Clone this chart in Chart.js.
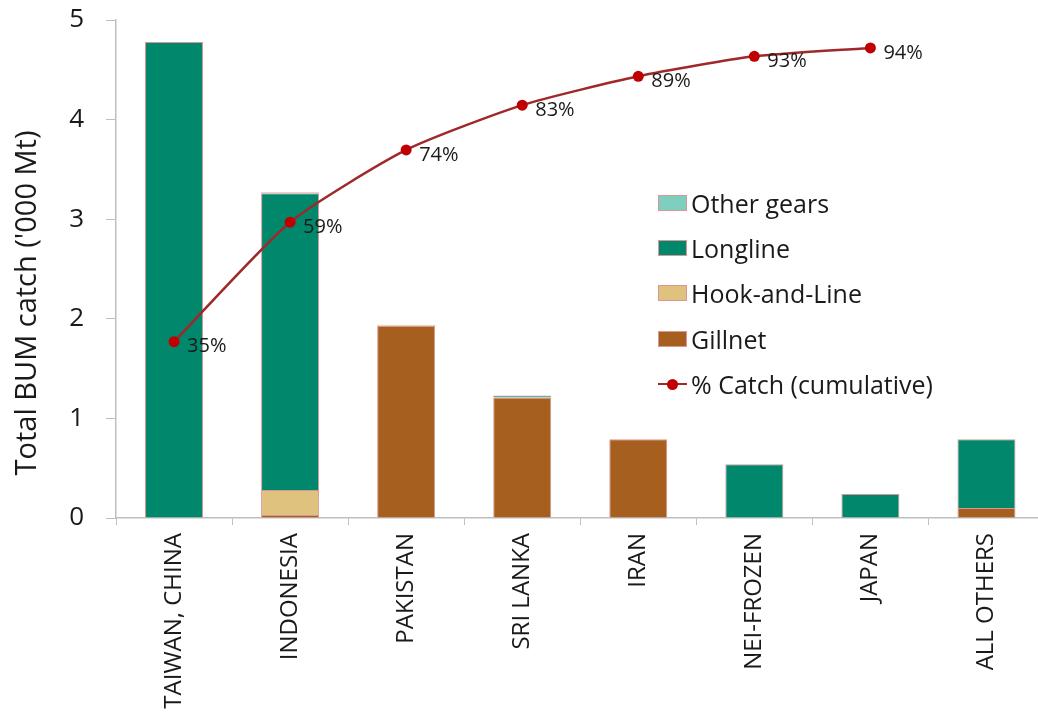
<!DOCTYPE html>
<html>
<head>
<meta charset="utf-8">
<script src="https://cdn.jsdelivr.net/npm/chart.js@4.4.0/dist/chart.umd.min.js"></script>
<style>
  html, body { margin: 0; padding: 0; background: #fff; overflow: hidden; }
  #wrap { position: relative; width: 1050px; height: 716px; }
  #legend { position: absolute; left: 658px; top: 180px; font-family: "Open Sans", sans-serif; font-size: 25px; color: #1a1a1a; }
  #legend .row { display: flex; align-items: center; height: 45.3px; white-space: nowrap; }
  #legend .sw { width: 27px; height: 14px; border: 1px solid #d99694; margin-right: 4px; }
  #legend .ln { position: relative; width: 29px; height: 14px; margin-right: 4px; }
  #legend .ln:before { content: ""; position: absolute; left: 0; right: 0; top: 6px; height: 2px; background: #a0282a; }
  #legend .ln:after { content: ""; position: absolute; left: 9px; top: 2px; width: 11px; height: 11px; border-radius: 50%; background: #c00000; }
</style>
</head>
<body>
<div id="wrap">
  <canvas id="barChart" width="1050" height="716"></canvas>
  <div id="legend"></div>
</div>
<script>
// ---- data ----
const categories = ["TAIWAN, CHINA", "INDONESIA", "PAKISTAN", "SRI LANKA", "IRAN", "NEI-FROZEN", "JAPAN", "ALL OTHERS"];
const gillnet    = [null, 0.03, 1.93, 1.21, 0.79, null, null, 0.10];
const hookLine   = [null, 0.25, 0.01, null, null, null, null, null];
const longline   = [4.78, 2.98, null, 0.02, null, 0.54, 0.24, 0.69];
const otherGears = [null, 0.01, null, null, null, null, null, null];
const cumPct     = [35.4, 59.4, 73.9, 82.9, 88.7, 92.7, 94.4];
const yMax = 5;

const FONT = '"Open Sans", sans-serif';
const TXT = '#1a1a1a';
const AXIS = '#bfbfbf';
const EDGE = '#d99694';

// draws the rotated y title and the % labels next to the line points
const extras = {
  id: 'extras',
  afterDatasetsDraw(chart) {
    const ctx = chart.ctx;
    ctx.save();
    ctx.fillStyle = TXT;
    ctx.font = '20px ' + FONT;
    ctx.textAlign = 'left';
    ctx.textBaseline = 'middle';
    const meta = chart.getDatasetMeta(4);
    meta.data.forEach((pt, i) => {
      ctx.fillText(Math.round(cumPct[i]) + '%', pt.x + 13, pt.y + 5);
    });
    ctx.restore();

    ctx.save();
    ctx.fillStyle = TXT;
    ctx.font = '29px ' + FONT;
    ctx.textAlign = 'center';
    ctx.textBaseline = 'middle';
    ctx.translate(28, 303);
    ctx.rotate(-Math.PI / 2);
    ctx.fillText("Total BUM catch ('000 Mt)", 0, 0);
    ctx.restore();
  }
};

const CHART = document.getElementById('barChart');
let barChart = new Chart(CHART, {
  type: 'bar',
  data: {
    labels: categories,
    datasets: [
      { label: 'Gillnet', data: gillnet, backgroundColor: '#a65f1e', borderColor: EDGE, borderWidth: 1, order: 1 },
      { label: 'Hook-and-Line', data: hookLine, backgroundColor: '#dfc27d', borderColor: EDGE, borderWidth: 1, order: 1 },
      { label: 'Longline', data: longline, backgroundColor: '#00876c', borderColor: EDGE, borderWidth: 1, order: 1 },
      { label: 'Other gears', data: otherGears, backgroundColor: '#7fcfc0', borderColor: EDGE, borderWidth: 1, order: 1 },
      {
        label: '% Catch (cumulative)',
        type: 'line',
        data: cumPct,
        yAxisID: 'y2',
        borderColor: '#a0282a',
        borderWidth: 2.5,
        pointRadius: 5.5,
        pointBackgroundColor: '#c00000',
        pointBorderWidth: 0,
        tension: 0.2,
        order: 0
      }
    ]
  },
  options: {
    responsive: false,
    animation: false,
    layout: { padding: { top: 20, right: 0, bottom: 0, left: 0 } },
    datasets: { bar: { barPercentage: 0.5, categoryPercentage: 1.0 } },
    plugins: { legend: { display: false }, tooltip: { enabled: false } },
    scales: {
      x: {
        stacked: true,
        grid: { drawOnChartArea: false, tickLength: 7, color: AXIS },
        border: { color: AXIS, width: 1.5 },
        ticks: { color: TXT, font: { family: FONT, size: 24 }, minRotation: 90, maxRotation: 90, padding: 8 },
        afterFit(scale) { scale.height = 198; }
      },
      y: {
        stacked: true,
        min: 0,
        max: yMax,
        grid: { drawOnChartArea: false, tickLength: 10, color: AXIS },
        border: { color: AXIS, width: 1.5 },
        ticks: { stepSize: 1, color: TXT, font: { family: FONT, size: 26 }, padding: 22 },
        afterFit(scale) {
          scale.width = 116;
          scale.paddingTop = 0;
          scale.paddingBottom = 0;
        }
      },
      y2: { display: false, min: 0, max: 100 }
    }
  },
  plugins: [extras]
});

// legend in the same order as the original (top of stack first)
const legendEl = document.getElementById('legend');
const sets = barChart.data.datasets;
[3, 2, 1, 0, 4].forEach(i => {
  const ds = sets[i];
  const row = document.createElement('div');
  row.className = 'row';
  const mark = document.createElement('span');
  if (ds.type === 'line') {
    mark.className = 'ln';
  } else {
    mark.className = 'sw';
    mark.style.background = ds.backgroundColor;
  }
  const txt = document.createElement('span');
  txt.textContent = ds.label;
  row.appendChild(mark);
  row.appendChild(txt);
  legendEl.appendChild(row);
});
</script>
</body>
</html>
